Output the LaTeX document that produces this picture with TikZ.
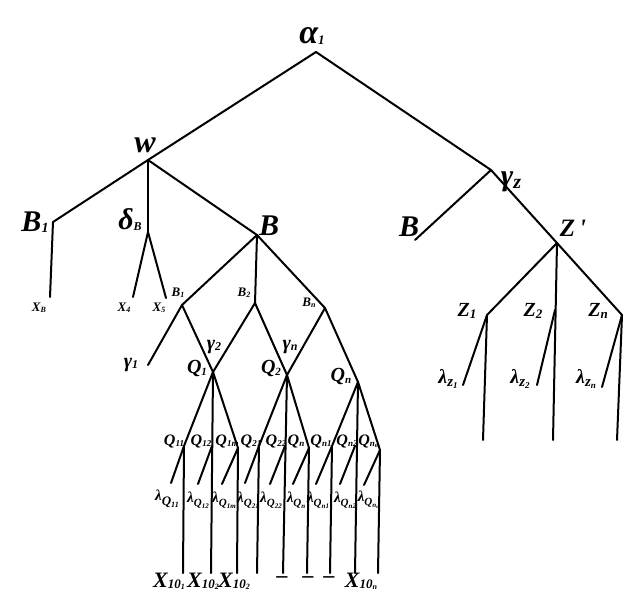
\documentclass[tikz,border=0pt]{standalone}
\usepackage{fontspec}
\setmainfont{Liberation Serif}
% lowered, resized part of a label: \low[raise]{size}{text}
\newcommand\low[3][-2pt]{\raisebox{#1}{\fontsize{#2}{#2}\selectfont #3}}
\begin{document}
\begin{tikzpicture}[x=1pt,y=-1pt,
  edge/.style={line width=2pt, line cap=round, line join=round},
  big/.style={font=\fontsize{30}{30}\selectfont\bfseries\itshape, inner sep=0pt},
  mid/.style={font=\fontsize{20}{20}\selectfont\bfseries\itshape, inner sep=0pt},
  sml/.style={font=\fontsize{13}{13}\selectfont\bfseries\itshape, inner sep=0pt},
  qlab/.style={font=\fontsize{16}{16}\selectfont\bfseries\itshape, inner sep=0pt},
  llab/.style={font=\fontsize{15}{15}\selectfont\bfseries\itshape, inner sep=0pt},
  xlab/.style={font=\fontsize{22}{22}\selectfont\bfseries\itshape, inner sep=0pt}]
\useasboundingbox (0,0) rectangle (628,602);
% junctions and ends
\coordinate (A) at (316,52);
\coordinate (W) at (148,160);
\coordinate (GZ) at (491,170);
\coordinate (B1j) at (53,222);  \coordinate (XBe) at (50,297);
\coordinate (DB) at (148,232);  \coordinate (X4e) at (133,297); \coordinate (X5e) at (166,298);
\coordinate (Bj) at (257,235);
\coordinate (BRe) at (415,240);
\coordinate (Zp) at (557,243);
\coordinate (Z1j) at (487,315); \coordinate (Z1b) at (483,440); \coordinate (L1e) at (463,385);
\coordinate (Z2j) at (555,310); \coordinate (Z2b) at (553,440); \coordinate (L2e) at (537,385);
\coordinate (Znj) at (622,315); \coordinate (Znb) at (617,440); \coordinate (Lne) at (602,387);
\coordinate (Bs1) at (182,305); \coordinate (G1e) at (148,365);
\coordinate (Bs2) at (255,303);
\coordinate (Bsn) at (325,308);
\coordinate (Q1) at (213,372); \coordinate (Q2) at (287,375); \coordinate (Qn) at (358,382);
\coordinate (Q11) at (184,446); \coordinate (Q11b) at (183,573); \coordinate (Q11l) at (171,483);
\coordinate (Q12) at (212,446); \coordinate (Q1b) at (211,573);  \coordinate (Q12l) at (198,484);
\coordinate (Q1m) at (238,448); \coordinate (Q1mb) at (237,573); \coordinate (Q1ml) at (222,484);
\coordinate (Q21) at (259,446); \coordinate (Q21b) at (257,573); \coordinate (Q21l) at (245,483);
\coordinate (Q22) at (285,446); \coordinate (Q2b) at (283,573);  \coordinate (Q22l) at (270,484);
\coordinate (Q2n) at (309,448); \coordinate (Q2nb) at (307,573); \coordinate (Q2nl) at (293,484);
\coordinate (Qn1) at (332,446); \coordinate (Qn1b) at (330,573); \coordinate (Qn1l) at (316,484);
\coordinate (Qn2) at (355,446); \coordinate (Qnb) at (355,573);  \coordinate (Qn2l) at (340,484);
\coordinate (Qnm) at (380,450); \coordinate (Qnmb) at (378,573); \coordinate (Qnml) at (364,485);
% edges
\draw[edge] (B1j) -- (W) -- (A) -- (GZ) -- (Zp);
\draw[edge] (B1j) -- (XBe);
\draw[edge] (W) -- (DB); \draw[edge] (X4e) -- (DB) -- (X5e);
\draw[edge] (W) -- (Bj);
\draw[edge] (GZ) -- (BRe);
\draw[edge] (Zp) -- (Z1j); \draw[edge] (Zp) -- (Z2b); \draw[edge] (Zp) -- (Znj);
\draw[edge] (Z1j) -- (Z1b); \draw[edge] (Z1j) -- (L1e);
\draw[edge] (Z2j) -- (L2e);
\draw[edge] (Znj) -- (Znb); \draw[edge] (Znj) -- (Lne);
\draw[edge] (Bj) -- (Bs1); \draw[edge] (Bj) -- (Bs2); \draw[edge] (Bj) -- (Bsn);
\draw[edge] (G1e) -- (Bs1) -- (Q1);
\draw[edge] (Q1) -- (Bs2) -- (Q2);
\draw[edge] (Q2) -- (Bsn) -- (Qn);
\draw[edge] (Q1) -- (Q11) -- (Q11l); \draw[edge] (Q11) -- (Q11b);
\draw[edge] (Q1) -- (Q1b); \draw[edge] (Q12) -- (Q12l);
\draw[edge] (Q1) -- (Q1m) -- (Q1mb); \draw[edge] (Q1m) -- (Q1ml);
\draw[edge] (Q2) -- (Q21) -- (Q21l); \draw[edge] (Q21) -- (Q21b);
\draw[edge] (Q2) -- (Q2b); \draw[edge] (Q22) -- (Q22l);
\draw[edge] (Q2) -- (Q2n) -- (Q2nb); \draw[edge] (Q2n) -- (Q2nl);
\draw[edge] (Qn) -- (Qn1) -- (Qn1l); \draw[edge] (Qn1) -- (Qn1b);
\draw[edge] (Qn) -- (Qnb); \draw[edge] (Qn2) -- (Qn2l);
\draw[edge] (Qn) -- (Qnm) -- (Qnmb); \draw[edge] (Qnm) -- (Qnml);
% labels
\node[big, font=\fontsize{34}{34}\selectfont\bfseries\itshape] (tA) at (312,36) {α\low[-1pt]{13pt}{1}};
\node[big, font=\fontsize{32}{32}\selectfont\bfseries\itshape] (tW) at (145,145) {w};
\node[big] (tGZ) at (511,182) {γ\low[-3pt]{20pt}{z}};
\node[big] (tB1) at (35,222) {B\low[-1pt]{14pt}{1}};
\node[big] (tDB) at (130,220) {δ\low[-1pt]{12pt}{B}};
\node[big] (tB) at (269,226) {B};
\node[big] (tBR) at (409,227) {B};
\node[font=\fontsize{25}{25}\selectfont\bfseries\itshape, inner sep=0pt] (tZp) at (573,228) {Z\,\textquotesingle};
\node[sml] (tXB) at (39,308) {X\low[-1pt]{8pt}{B}};
\node[sml] (tX4) at (124,308) {X\low[-1pt]{8pt}{4}};
\node[sml] (tX5) at (159,308) {X\low[-1pt]{8pt}{5}};
\node[sml] (tBs1) at (178,293) {B\low[-1pt]{8pt}{1}};
\node[sml] (tBs2) at (244,293) {B\low[-1pt]{8pt}{2}};
\node[sml] (tBsn) at (309,303) {B\low[-1pt]{8pt}{n}};
\node[mid] (tG1) at (131,365) {γ\low[-1pt]{12pt}{1}};
\node[mid] (tG2) at (214,347) {γ\low[-1pt]{12pt}{2}};
\node[mid] (tGn) at (290,347) {γ\low[-1pt]{12pt}{n}};
\node[mid] (tQ1) at (197,368) {Q\low[-2pt]{11pt}{1}};
\node[mid] (tQ2) at (271,368) {Q\low[-2pt]{11pt}{2}};
\node[mid] (tQn) at (341,376) {Q\low[-2pt]{11pt}{n}};
\node[mid] (tZ1) at (467,311) {Z\low[-2pt]{13pt}{1}};
\node[mid] (tZ2) at (533,311) {Z\low[-2pt]{13pt}{2}};
\node[mid] (tZn) at (598,311) {Z\low[-2pt]{13pt}{n}};
\node[mid] (tL1) at (448,379) {λ\low[-3pt]{15pt}{z\low[-2pt]{9pt}{1}}};
\node[mid] (tL2) at (520,379) {λ\low[-3pt]{15pt}{z\low[-2pt]{9pt}{2}}};
\node[mid] (tLn) at (586,379) {λ\low[-3pt]{15pt}{z\low[-2pt]{9pt}{n}}};
\node[qlab] (tQ11) at (174,441) {Q\low[-1pt]{9pt}{11}};
\node[qlab] (tQ12) at (201,441) {Q\low[-1pt]{9pt}{12}};
\node[qlab] (tQ1m) at (227,441) {Q\low[-1pt]{9pt}{1m}};
\node[qlab] (tQ21) at (251,441) {Q\low[-1pt]{9pt}{21}};
\node[qlab] (tQ22) at (276,441) {Q\low[-1pt]{9pt}{22}};
\node[qlab] (tQ2n) at (296,441) {Q\low[-1pt]{9pt}{n}};
\node[qlab] (tQn1) at (321,441) {Q\low[-1pt]{9pt}{n1}};
\node[qlab] (tQn2) at (347,441) {Q\low[-1pt]{9pt}{n2}};
\node[qlab] (tQnm) at (369,441) {Q\low[-1pt]{9pt}{n\low[-1pt]{6pt}{m}}};
\node[llab] (lQ11) at (167,499) {λ\low[-5pt]{13pt}{Q\low[-2pt]{8pt}{11}}};
\node[llab] (lQ12) at (198,500) {λ\low[-4pt]{11pt}{Q\low[-2pt]{7pt}{12}}};
\node[llab] (lQ1m) at (224,500) {λ\low[-4pt]{11pt}{Q\low[-2pt]{7pt}{1m}}};
\node[llab] (lQ21) at (248,500) {λ\low[-4pt]{11pt}{Q\low[-2pt]{7pt}{21}}};
\node[llab] (lQ22) at (271,500) {λ\low[-4pt]{11pt}{Q\low[-2pt]{7pt}{22}}};
\node[llab] (lQ2n) at (296,500) {λ\low[-4pt]{11pt}{Q\low[-2pt]{7pt}{n}}};
\node[llab] (lQn1) at (318,500) {λ\low[-4pt]{11pt}{Q\low[-2pt]{7pt}{n1}}};
\node[llab] (lQn2) at (345,500) {λ\low[-4pt]{11pt}{Q\low[-2pt]{7pt}{n2}}};
\node[llab] (lQnm) at (369,500) {λ\low[-4pt]{11pt}{Q\low[-2pt]{7pt}{n\low[-1pt]{5pt}{m}}}};
\node[xlab] (x1) at (169,581) {X\low[-1pt]{13pt}{10\low[-1pt]{8pt}{1}}};
\node[xlab] (x2) at (203,581) {X\low[-1pt]{13pt}{10\low[-1pt]{8pt}{2}}};
\node[xlab] (x3) at (234,581) {X\low[-1pt]{13pt}{10\low[-1pt]{8pt}{2}}};
\node[xlab] (d1) at (282,580) {–};
\node[xlab] (d2) at (308,580) {–};
\node[xlab] (d3) at (329,580) {–};
\node[xlab] (xn) at (361,581) {X\low[-1pt]{13pt}{10\low[-1pt]{8pt}{n}}};
\end{tikzpicture}
\end{document}
